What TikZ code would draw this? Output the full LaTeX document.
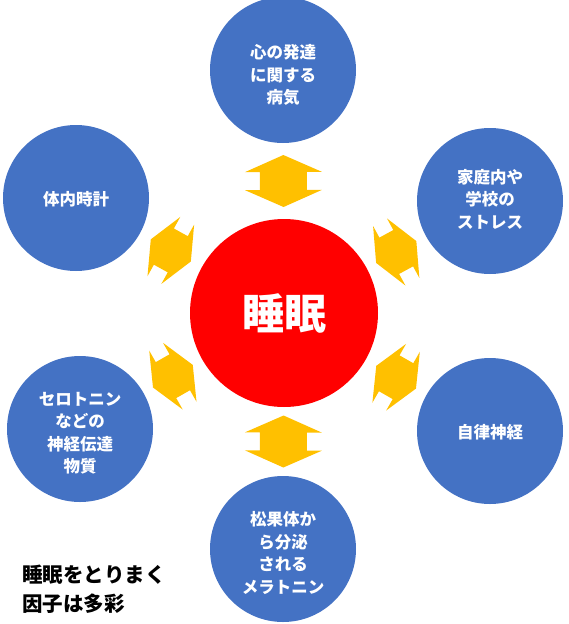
\documentclass[tikz,border=0pt]{standalone}
\usepackage{fontspec}
\newfontfamily\jp{Noto Sans CJK JP}
\definecolor{cblue}{HTML}{4472C4}
\definecolor{cred}{HTML}{FF0000}
\definecolor{cyel}{HTML}{FFC000}
\tikzset{
  outer/.style={circle, fill=cblue, minimum size=146pt, inner sep=0pt},
  txt/.style={inner sep=0pt, text=white, align=center,
    font=\jp\bfseries\fontsize{16.5}{22.5}\selectfont},
  core/.style={circle, fill=cred, minimum size=188pt, inner sep=0pt, text=white,
    font=\jp\bfseries\fontsize{42}{46}\selectfont},
  caption/.style={anchor=north west, inner sep=0pt, align=left, text=black,
    font=\jp\bfseries\fontsize{20.5}{29}\selectfont},
  dblarr/.pic={\fill[cyel] (-26,0) -- (-9,-38.5) -- (-9,-23.5) -- (9,-23.5) -- (9,-38.5)
     -- (26,0) -- (9,38.5) -- (9,23.5) -- (-9,23.5) -- (-9,38.5) -- cycle;}
}
\begin{document}
\begin{tikzpicture}[x=1pt,y=-1pt]
\useasboundingbox (0,0) rectangle (568,624);
\node[core] (c) at (284,313) {睡眠};
\node[outer, label={[txt, yshift=-5pt]center:{心の発達\\に関する\\病気}}] (top) at (283,70) {};
\node[outer, label={[txt, yshift=2pt]center:{家庭内や\\学校の\\ストレス}}] (tr) at (490,201) {};
\node[outer, label={[txt, yshift=-1pt]center:{体内時計}}] (tl) at (76,198) {};
\node[outer, label={[txt, yshift=-4pt]center:{セロトニン\\などの\\神経伝達\\物質}}] (bl) at (80,429) {};
\node[outer, label={[txt, yshift=-1pt]center:{自律神経}}] (br) at (490,431) {};
\node[outer, label={[txt, yshift=-4pt]center:{松果体か\\ら分泌\\される\\メラトニン}}] (bot) at (283,549) {};
\path (top) -- pic[midway, sloped] {dblarr} (c);
\path (c) -- pic[midway, sloped] {dblarr} (bot);
\path (tl) -- pic[midway, sloped, scale=0.88] {dblarr} (c);
\path (tr) -- pic[midway, sloped, scale=0.88] {dblarr} (c);
\path (bl) -- pic[midway, sloped, scale=0.88] {dblarr} (c);
\path (br) -- pic[midway, sloped, scale=0.88] {dblarr} (c);
\node[caption] (cap) at (22,565) {睡眠をとりまく\\因子は多彩};
\end{tikzpicture}
\end{document}
